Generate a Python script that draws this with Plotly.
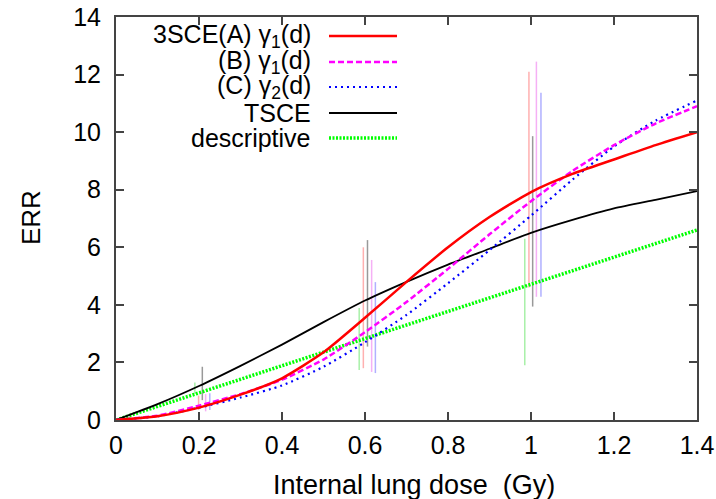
import plotly.graph_objects as go

# ---- data ----
dose = [0.0, 0.1, 0.2, 0.3, 0.4, 0.5, 0.6, 0.7, 0.8, 0.9, 1.0, 1.1, 1.2, 1.3, 1.4]
err_3sce_a = [0.0, 0.13, 0.43, 0.88, 1.45, 2.35, 3.55, 4.8, 6.0, 7.05, 7.92, 8.55, 9.05, 9.55, 10.0]
err_3sce_b = [0.0, 0.15, 0.5, 0.9, 1.4, 2.1, 3.05, 4.1, 5.25, 6.45, 7.6, 8.65, 9.55, 10.3, 10.9]
err_3sce_c = [0.0, 0.13, 0.43, 0.78, 1.2, 1.85, 2.7, 3.65, 4.75, 5.9, 7.1, 8.35, 9.5, 10.4, 11.1]
err_tsce = [0.0, 0.55, 1.18, 1.88, 2.62, 3.4, 4.15, 4.8, 5.4, 5.95, 6.5, 6.95, 7.35, 7.65, 7.95]
desc_dose = [0.0, 1.4]
err_desc = [0.0, 6.6]

# confidence bars (x position, lower, upper) per model
bar_x_desc = [0.19, 0.586, 0.985]
bar_lo_desc = [0.9, 1.74, 1.9]
bar_hi_desc = [1.3, 3.89, 6.3]
bar_x_a = [0.199, 0.596, 0.995]
bar_lo_a = [0.35, 1.8, 4.6]
bar_hi_a = [0.85, 6.0, 12.1]
bar_x_tsce = [0.208, 0.606, 1.004]
bar_lo_tsce = [0.69, 2.55, 3.94]
bar_hi_tsce = [1.85, 6.25, 9.86]
bar_x_b = [0.216, 0.616, 1.013]
bar_lo_b = [0.3, 1.67, 4.28]
bar_hi_b = [0.9, 5.56, 12.45]
bar_x_c = [0.226, 0.625, 1.024]
bar_lo_c = [0.35, 1.63, 4.28]
bar_hi_c = [0.93, 4.79, 11.37]

x_ticks = [0, 0.2, 0.4, 0.6, 0.8, 1.0, 1.2, 1.4]
x_tick_text = ["0", "0.2", "0.4", "0.6", "0.8", "1", "1.2", "1.4"]
y_ticks = [0, 2, 4, 6, 8, 10, 12, 14]

legend_labels = ["3SCE(A) γ<sub>1</sub>(d)", "(B) γ<sub>1</sub>(d)", "(C) γ<sub>2</sub>(d)",
                 "TSCE", "descriptive"]

FONT = "Liberation Sans, Arial, sans-serif"

# plot-area geometry in pixels (used only to place the manual legend/titles)
PL, PR, PT, PB = 116, 697, 17, 420


def px_x(px):
    return (px - PL) / (PR - PL)


def px_y(py):
    return (PB - py) / (PB - PT)


fig = go.Figure()


def bars(xs, lo, hi, color):
    bx, by = [], []
    for x, l, h in zip(xs, lo, hi):
        bx += [x, x, None]
        by += [l, h, None]
    fig.add_trace(go.Scatter(x=bx, y=by, mode="lines", line=dict(color=color, width=1.5),
                             showlegend=False, hoverinfo="skip"))


bars(bar_x_desc, bar_lo_desc, bar_hi_desc, "#a8f0a8")
bars(bar_x_a, bar_lo_a, bar_hi_a, "#ffb0b0")
bars(bar_x_tsce, bar_lo_tsce, bar_hi_tsce, "#999999")
bars(bar_x_b, bar_lo_b, bar_hi_b, "#f5b0f5")
bars(bar_x_c, bar_lo_c, bar_hi_c, "#b0b0ff")

S_RED = ("#ff0000", "solid", 2.5)
S_MAG = ("#ff00ff", "6px,3px", 2.5)
S_BLU = ("#0000ff", "2px,4px", 2.2)
S_BLK = ("#000000", "solid", 1.8)
S_GRN = ("#00ff00", "2px,1.5px", 3.5)

for (color, dash, w), xs, ys in [(S_GRN, desc_dose, err_desc), (S_BLK, dose, err_tsce),
                                 (S_BLU, dose, err_3sce_c), (S_MAG, dose, err_3sce_b),
                                 (S_RED, dose, err_3sce_a)]:
    fig.add_trace(go.Scatter(x=xs, y=ys, mode="lines",
                             line=dict(color=color, dash=dash, width=w, shape="spline", smoothing=0.6),
                             showlegend=False))

# manual legend (text left of line sample, like the original)
row_y = [36, 62, 87, 113, 138]
for lab, (c, d, w), ry in zip(legend_labels, [S_RED, S_MAG, S_BLU, S_BLK, S_GRN], row_y):
    yp = px_y(ry)
    fig.add_annotation(x=px_x(313), y=yp, xref="paper", yref="paper", text=lab,
                       showarrow=False, xanchor="right", yanchor="middle",
                       font=dict(family=FONT, size=25, color="black"))
    fig.add_shape(type="line", xref="paper", yref="paper", x0=px_x(329), x1=px_x(397),
                  y0=yp, y1=yp, line=dict(color=c, dash=d, width=w))

# axis titles
fig.add_annotation(x=px_x(414), y=px_y(485), xref="paper", yref="paper",
                   text="Internal lung dose  (Gy)", showarrow=False,
                   xanchor="center", yanchor="middle", font=dict(family=FONT, size=27))
fig.add_annotation(x=px_x(31), y=px_y(218), xref="paper", yref="paper",
                   text="ERR", showarrow=False, textangle=-90,
                   xanchor="center", yanchor="middle", font=dict(family=FONT, size=26))

fig.update_layout(
    width=716, height=499,
    margin=dict(l=PL, r=716 - PR, t=PT, b=499 - PB, autoexpand=False),
    paper_bgcolor="white", plot_bgcolor="white",
    font=dict(family=FONT, size=25, color="black"),
    showlegend=False,
)
fig.update_xaxes(range=[0, 1.4], tickvals=x_ticks, ticktext=x_tick_text,
                 ticks="inside", ticklen=8, tickcolor="#444", tickwidth=1.5,
                 showline=True, linecolor="#444", linewidth=2, mirror="ticks",
                 showgrid=False, zeroline=False, automargin=False, ticklabelstandoff=2)
fig.update_yaxes(range=[0, 14], tickvals=y_ticks,
                 ticks="inside", ticklen=8, tickcolor="#444", tickwidth=1.5,
                 showline=True, linecolor="#444", linewidth=2, mirror="ticks",
                 showgrid=False, zeroline=False, automargin=False, ticklabelstandoff=8)

fig.write_html("out.html", config={"displayModeBar": False},
               post_script="document.body.style.margin='0';document.body.style.overflow='hidden';")
